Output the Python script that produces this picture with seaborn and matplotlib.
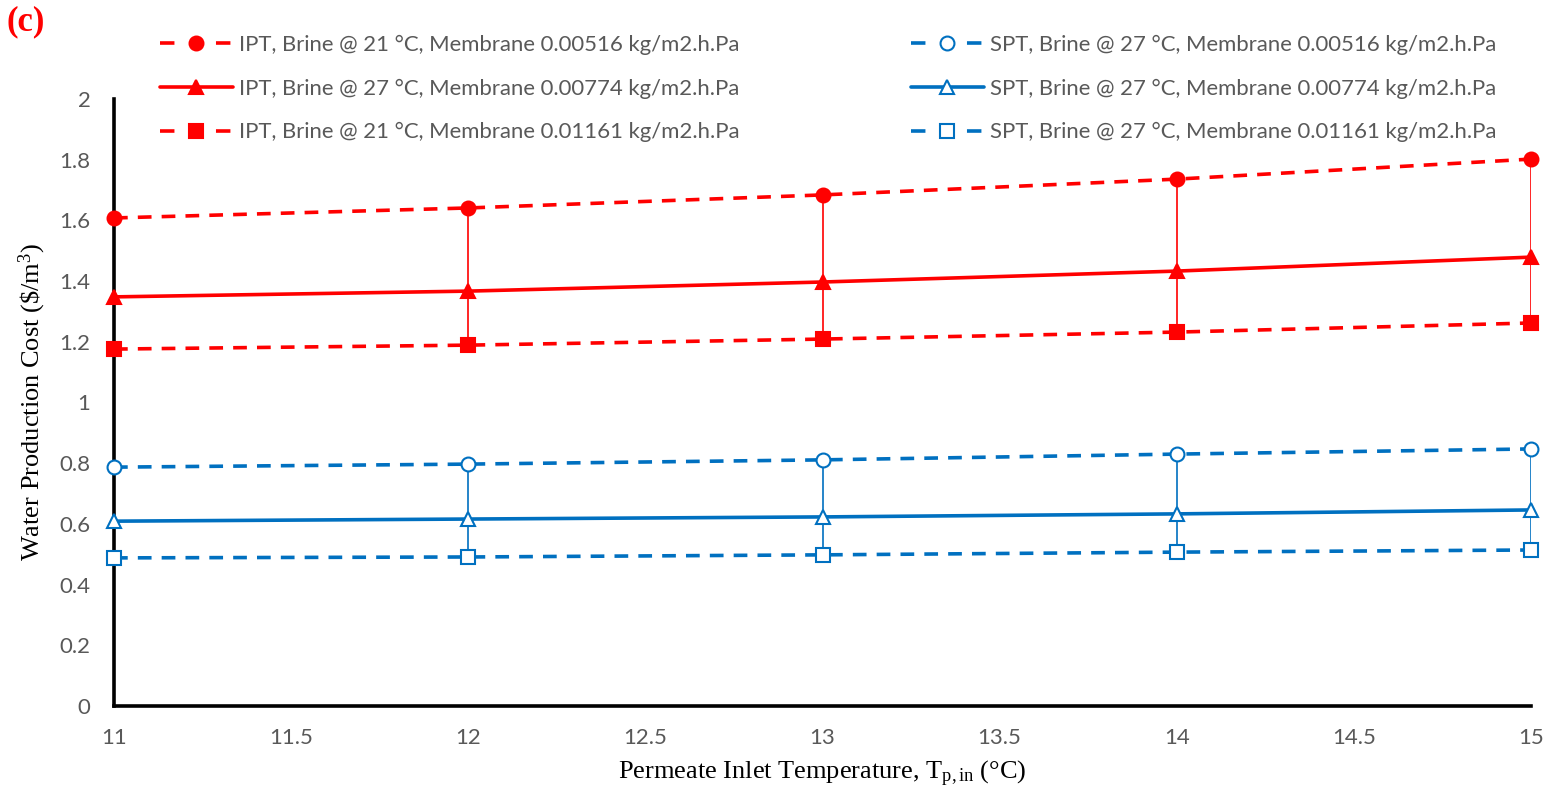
import matplotlib
matplotlib.use("Agg")
import matplotlib.pyplot as plt
import seaborn as sns
from matplotlib.lines import Line2D

# ---------------- data ----------------
temps = [11, 12, 13, 14, 15]
ipt_circle = [1.608, 1.641, 1.684, 1.736, 1.802]
ipt_triangle = [1.348, 1.367, 1.397, 1.433, 1.479]
ipt_square = [1.176, 1.189, 1.209, 1.232, 1.262]
spt_circle = [0.787, 0.797, 0.811, 0.830, 0.847]
spt_triangle = [0.609, 0.616, 0.623, 0.633, 0.646]
spt_square = [0.488, 0.491, 0.498, 0.507, 0.514]

ipt_labels = [
    "IPT, Brine @ 21 °C, Membrane 0.00516 kg/m2.h.Pa",
    "IPT, Brine @ 27 °C, Membrane 0.00774 kg/m2.h.Pa",
    "IPT, Brine @ 21 °C, Membrane 0.01161 kg/m2.h.Pa",
]
spt_labels = [
    "SPT, Brine @ 27 °C, Membrane 0.00516 kg/m2.h.Pa",
    "SPT, Brine @ 27 °C, Membrane 0.00774 kg/m2.h.Pa",
    "SPT, Brine @ 27 °C, Membrane 0.01161 kg/m2.h.Pa",
]
x_ticks = [11, 11.5, 12, 12.5, 13, 13.5, 14, 14.5, 15]
y_ticks = [0, 0.2, 0.4, 0.6, 0.8, 1, 1.2, 1.4, 1.6, 1.8, 2]
x_label = r"Permeate Inlet Temperature, T$_{\mathrm{p,in}}$ (°C)"
y_label = r"Water Production Cost (\$/m$^{3}$)"
panel = "(c)"

RED = "#FF0000"
BLUE = "#0070C0"
GRAY = "#595959"

sns.set_style("white")
plt.rcParams["font.family"] = ["Lato", "DejaVu Sans"]
plt.rcParams["mathtext.fontset"] = "custom"
plt.rcParams["mathtext.rm"] = "Liberation Serif"
plt.rcParams["mathtext.it"] = "Liberation Serif:italic"

fig = plt.figure(figsize=(15.59, 7.97), dpi=100)
ax = fig.add_axes([114 / 1559, 1 - 706 / 797, (1531 - 114) / 1559, (706 - 99) / 797])

# connecting high-low lines
ax.vlines(temps, ipt_square, ipt_circle, color=RED, lw=1.2, zorder=1.5)
ax.vlines(temps, spt_square, spt_circle, color=BLUE, lw=1.2, zorder=1.5)

LW = 2.6
series = [
    (ipt_circle, RED, "o", True, "dash", 10),
    (ipt_triangle, RED, "^", True, "solid", 10),
    (ipt_square, RED, "s", True, "dash", 9.5),
    (spt_circle, BLUE, "o", False, "dash", 10),
    (spt_triangle, BLUE, "^", False, "solid", 10),
    (spt_square, BLUE, "s", False, "dash", 9.5),
]
handles = []
for vals, col, mk, filled, style, ms in series:
    n_before = len(ax.lines)
    sns.lineplot(x=temps, y=vals, ax=ax, color=col, marker=mk, markersize=ms,
                 markerfacecolor=col if filled else "white",
                 markeredgecolor=col, markeredgewidth=1.5,
                 linewidth=LW, errorbar=None, zorder=3)
    line = ax.lines[n_before]
    line.set_clip_on(False)
    if style == "dash":
        line.set_dashes((3.8, 2.8))
    h = Line2D([], [], color=col, marker=mk, markersize=ms,
               markerfacecolor=col if filled else "white",
               markeredgecolor=col, markeredgewidth=1.5, linewidth=LW,
               linestyle="--" if style == "dash" else "-")
    if style == "dash":
        h.set_dashes((4.0, 11.5))
    handles.append(h)

ax.set_xlim(11, 15)
ax.set_ylim(0, 2)
ax.set_xticks(x_ticks)
ax.set_xticklabels([f"{v:g}" for v in x_ticks])
ax.set_yticks(y_ticks)
ax.set_yticklabels([f"{v:g}" for v in y_ticks])
ax.tick_params(axis="both", direction="in", length=6, width=2.2, colors="black",
               labelcolor=GRAY, labelsize=16)
ax.tick_params(axis="y", pad=17)
ax.tick_params(axis="x", pad=16)
for s in ["top", "right"]:
    ax.spines[s].set_visible(False)
for s in ["left", "bottom"]:
    ax.spines[s].set_linewidth(2.6)
    ax.spines[s].set_color("black")
    ax.spines[s].set_zorder(2)

ax.set_xlabel(x_label, fontsize=19, family="Liberation Serif", color="black", labelpad=8)
ax.set_ylabel(y_label, fontsize=19, family="Liberation Serif", color="black", labelpad=8)

leg_kw = dict(frameon=False, fontsize=15.9, handlelength=3.3, handletextpad=0.27,
              labelspacing=1.06, borderpad=0, borderaxespad=0, loc="upper left",
              labelcolor=GRAY, numpoints=1)
leg1 = fig.legend(handles[:3], ipt_labels, bbox_to_anchor=(160 / 1559, 1 - 35 / 797), **leg_kw)
leg2 = fig.legend(handles[3:], spt_labels, bbox_to_anchor=(911 / 1559, 1 - 35 / 797), **leg_kw)

fig.text(7 / 1559, 1 - 22 / 797, panel, color=RED, fontsize=25, fontweight="bold",
         family="Liberation Serif", va="center", ha="left")

fig.savefig("out.png", dpi=100)
